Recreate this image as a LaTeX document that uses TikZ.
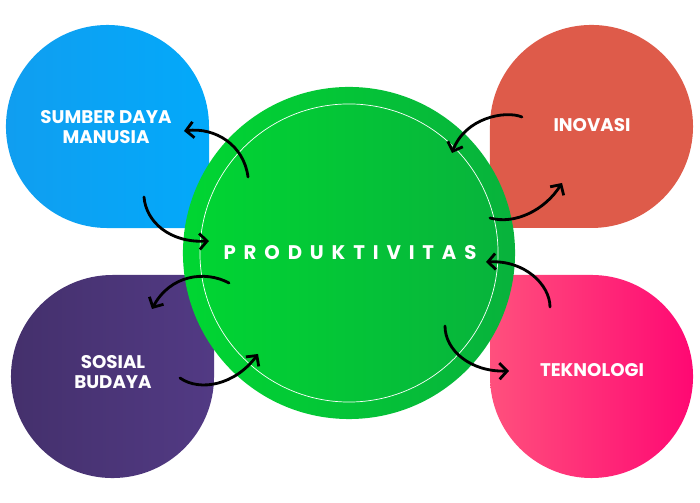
\documentclass[tikz,border=0pt]{standalone}
\usepackage{fontspec}
\setmainfont{Poppins}
\usetikzlibrary{arrows.meta}
\definecolor{sdmleft}{RGB}{16,158,240}
\definecolor{sdmright}{RGB}{3,169,250}
\definecolor{inovasi}{RGB}{222,91,74}
\definecolor{sbleft}{RGB}{68,48,108}
\definecolor{sbright}{RGB}{82,58,132}
\definecolor{tekleft}{RGB}{255,80,125}
\definecolor{tekright}{RGB}{255,8,115}
\definecolor{prodleft}{RGB}{0,214,50}
\definecolor{prodright}{RGB}{8,178,60}
\tikzset{
  lbltext/.style={text=white, font=\bfseries\fontsize{13}{14.5}\selectfont, align=center},
  prodtext/.style={text=white, font=\bfseries\fontsize{14}{16}\selectfont\addfontfeature{LetterSpace=40}},
  flow/.style={-{Straight Barb[length=1.9mm,width=4mm]}, line width=2pt, line cap=round, black},
}

\begin{document}
\begin{tikzpicture}[x=0.025cm, y=-0.025cm]
    \useasboundingbox (0,0) rectangle (700,503);
    \shade[left color=sdmleft, right color=sdmright] (209,126.5) arc[start angle=0, end angle=270, radius=2.5375cm] -- (209,228) -- cycle;
    \fill[inovasi] (591.5,228) arc[start angle=-90, end angle=180, radius=2.5375cm] -- (490,228) -- cycle;
    \shade[left color=sbleft, right color=sbright] (112.5,275) arc[start angle=90, end angle=360, radius=2.5375cm] -- (214,275) -- cycle;
    \shade[left color=tekleft, right color=tekright] (490,376.5) arc[start angle=180, end angle=450, radius=2.5375cm] -- (490,275) -- cycle;
    \shade[left color=prodleft, right color=prodright] (349,253) circle[radius=4.15cm];
    \draw[white, line width=0.5pt] (349,253) circle[radius=3.725cm];

    \node[lbltext] (sdm) at (106,127) {SUMBER DAYA\\MANUSIA};
    \node[lbltext] (inv) at (592,125) {INOVASI};
    \node[lbltext] (sb) at (113,372) {SOSIAL\\BUDAYA};
    \node[lbltext] (tek) at (592,370) {TEKNOLOGI};
    \node[prodtext] (prod) at (350,253) {PRODUKTIVITAS};

    \coordinate (prod-sdm) at (248,177);
    \coordinate (sdm-in) at (184,131);
    \coordinate (sdm-out) at (144,197);
    \coordinate (prod-in1) at (209,241);
    \coordinate (inv-out) at (522,117);
    \coordinate (prod-in2) at (452,153);
    \coordinate (prod-inv) at (490,218);
    \coordinate (inv-in) at (562,183);
    \coordinate (prod-sb) at (229,283);
    \coordinate (sb-in) at (152,309);
    \coordinate (sb-out) at (180,378);
    \coordinate (prod-in3) at (258,354);
    \coordinate (tek-out) at (550,307);
    \coordinate (prod-in4) at (486,262);
    \coordinate (prod-tek) at (445,326);
    \coordinate (tek-in) at (509,371);

    \draw[flow] (prod-sdm) .. controls (244,145) and (215,127) .. (sdm-in);
    \draw[flow] (sdm-out) .. controls (146,222) and (170,243) .. (prod-in1);
    \draw[flow] (inv-out) .. controls (505,110) and (465,118) .. (prod-in2);
    \draw[flow] (prod-inv) .. controls (515,225) and (545,210) .. (inv-in);
    \draw[flow] (prod-sb) .. controls (205,270) and (170,275) .. (sb-in);
    \draw[flow] (sb-out) .. controls (200,392) and (235,385) .. (prod-in3);
    \draw[flow] (tek-out) .. controls (550,285) and (525,260) .. (prod-in4);
    \draw[flow] (prod-tek) .. controls (445,350) and (470,372) .. (tek-in);
\end{tikzpicture}
\end{document}
